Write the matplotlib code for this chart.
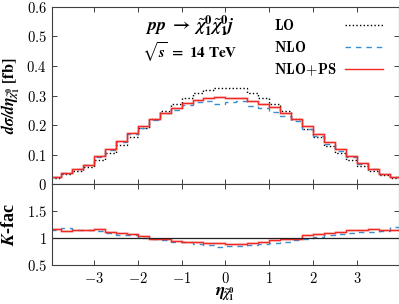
import numpy as np
import matplotlib
matplotlib.use("Agg")
import matplotlib.pyplot as plt
from matplotlib.lines import Line2D

plt.rcParams['mathtext.fontset'] = 'cm'
plt.rcParams['font.family'] = ['Liberation Serif', 'DejaVu Serif']
plt.rcParams['axes.formatter.use_mathtext'] = True

# ---- data ----
edges = np.arange(-4.0, 4.0001, 0.25)
lo = [0.020, 0.033, 0.044, 0.057, 0.081, 0.106, 0.133, 0.161, 0.190, 0.221, 0.248, 0.271,
      0.292, 0.310, 0.320, 0.326, 0.326, 0.326, 0.307, 0.291, 0.271, 0.246, 0.222, 0.187,
      0.159, 0.129, 0.105, 0.083, 0.062, 0.045, 0.031, 0.020]
nlo = [0.023, 0.039, 0.050, 0.065, 0.091, 0.115, 0.141, 0.170, 0.190, 0.218, 0.241, 0.252,
       0.269, 0.278, 0.280, 0.272, 0.277, 0.280, 0.266, 0.258, 0.244, 0.229, 0.213, 0.185,
       0.162, 0.136, 0.112, 0.091, 0.068, 0.050, 0.035, 0.024]
nlops = [0.023, 0.037, 0.050, 0.066, 0.095, 0.118, 0.145, 0.172, 0.196, 0.219, 0.242, 0.257,
         0.273, 0.285, 0.290, 0.295, 0.290, 0.290, 0.281, 0.272, 0.260, 0.242, 0.220, 0.196,
         0.171, 0.142, 0.117, 0.095, 0.071, 0.052, 0.035, 0.023]
k_nlo = [1.15, 1.19, 1.14, 1.14, 1.125, 1.085, 1.06, 1.05, 1.00, 0.985, 0.97, 0.93,
         0.92, 0.895, 0.875, 0.835, 0.85, 0.86, 0.865, 0.885, 0.90, 0.93, 0.96, 0.99,
         1.02, 1.05, 1.07, 1.09, 1.11, 1.12, 1.13, 1.20]
k_nlops = [1.17, 1.13, 1.14, 1.15, 1.17, 1.11, 1.09, 1.065, 1.03, 0.99, 0.975, 0.95,
           0.935, 0.92, 0.905, 0.905, 0.89, 0.89, 0.915, 0.935, 0.96, 0.985, 0.99, 1.05,
           1.075, 1.10, 1.12, 1.14, 1.155, 1.165, 1.14, 1.14]
labels = [r'$\mathbf{LO}$', r'$\mathbf{NLO}$', r'$\mathbf{NLO\!+\!PS}$']
xticks = [-3, -2, -1, 0, 1, 2, 3]
xticklabels = [r'$-3$', r'$-2$', r'$-1$', r'$0$', r'$1$', r'$2$', r'$3$']
yticks_main = [0, 0.1, 0.2, 0.3, 0.4, 0.5, 0.6]
yticklabels_main = [r'$0$', r'$0.1$', r'$0.2$', r'$0.3$', r'$0.4$', r'$0.5$', r'$0.6$']
yticks_k = [0.5, 1, 1.5]
yticklabels_k = [r'$0.5$', r'$1$', r'$1.5$']

RED = '#f02a22'
BLUE = '#3a8fd2'
SPINE = '#404040'

fig = plt.figure(figsize=(3.99, 3.04), dpi=100)
ax1 = fig.add_axes([0.1311, 0.3947, 0.868, 0.5823])
ax2 = fig.add_axes([0.1311, 0.1283, 0.868, 0.2664])

for ax in (ax1, ax2):
    ax.set_xlim(-3.94, 3.94)
    ax.set_xticks(xticks)
    ax.tick_params(direction='in', top=True, right=True, length=3.5, width=0.7,
                   color=SPINE, labelsize=10.5, pad=4)
    for s in ax.spines.values():
        s.set_color(SPINE)
        s.set_linewidth(0.8)

# main panel
ax1.stairs(lo, edges, color='black', linestyle=(0, (1, 1.6)), linewidth=1.0)
ax1.stairs(nlo, edges, color=BLUE, linestyle=(0, (4, 3.5)), linewidth=1.0)
ax1.stairs(nlops, edges, color=RED, linewidth=2.0, alpha=0.2)
ax1.stairs(nlops, edges, color=RED, linewidth=1.0)
ax1.set_ylim(0, 0.6)
ax1.set_yticks(yticks_main)
ax1.set_yticklabels(yticklabels_main)
ax1.tick_params(labelbottom=False)
chi = r'\tilde{\mathbfit{\chi}}_{\mathbf{1}}^{\mathbf{0}}'
ax1.set_ylabel(r'$\mathbfit{d\sigma/d\eta}_{' + chi + r'}\ \mathbf{[fb]}$',
               fontsize=11.5, labelpad=3, math_fontfamily='stix')

ax1.text(0.397, 0.893, r'$\mathbfit{pp}\ \mathbf{\rightarrow}\ ' + chi + r'\!\;' + chi + r'\mathbfit{j}$',
         transform=ax1.transAxes, fontsize=13, ha='center', va='center', math_fontfamily='stix')
ax1.text(0.397, 0.746, r'$\sqrt{\mathbfit{s}}\ \mathbf{=\ 14\ TeV}$',
         transform=ax1.transAxes, fontsize=11, ha='center', va='center', math_fontfamily='stix')

handles = [Line2D([], [], color='black', linestyle=(0, (1, 1.6)), linewidth=1.0),
           Line2D([], [], color=BLUE, linestyle=(0, (4, 3.5)), linewidth=1.0),
           Line2D([], [], color=RED, linewidth=1.0)]
leg1 = ax1.legend(handles, labels, loc='upper left', bbox_to_anchor=(0.64, 0.94),
                  frameon=False, handlelength=0, handletextpad=0, labelspacing=0.48,
                  fontsize=10.5, borderaxespad=0, borderpad=0)
ax1.add_artist(leg1)
leg2 = ax1.legend(handles, labels, loc='upper right', bbox_to_anchor=(0.955, 0.94),
                  frameon=False, handlelength=2.6, handletextpad=0, labelspacing=0.48,
                  fontsize=10.5, borderaxespad=0, borderpad=0, markerfirst=False)
for t in leg2.get_texts():
    t.set_alpha(0)

# ratio panel
ax2.stairs(k_nlo, edges, color=BLUE, linestyle=(0, (4, 3.5)), linewidth=1.0)
ax2.stairs(k_nlops, edges, color=RED, linewidth=2.0, alpha=0.2)
ax2.stairs(k_nlops, edges, color=RED, linewidth=1.0)
ax2.axhline(1.0, color='#222222', linewidth=0.9)
ax2.set_ylim(0.5, 2.0)
ax2.set_yticks(yticks_k)
ax2.set_yticklabels(yticklabels_k)
ax2.set_xticklabels(xticklabels)
ax2.set_ylabel(r'$\mathbfit{K}$-fac', fontsize=13, fontweight='bold', labelpad=6,
               math_fontfamily='stix')
ax2.set_xlabel(r'$\mathbfit{\eta}_{' + chi + r'}$', fontsize=12.5,
               labelpad=0, math_fontfamily='stix')

fig.savefig('out.png', dpi=100)
